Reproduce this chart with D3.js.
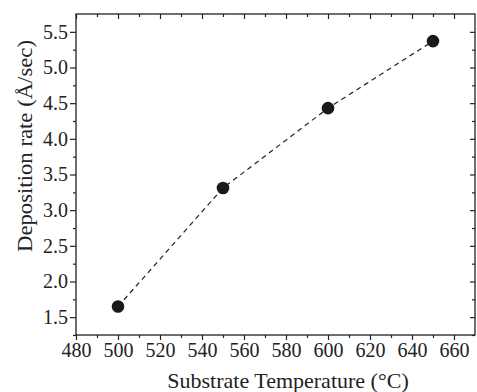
<!DOCTYPE html>
<html>
<head>
<meta charset="utf-8">
<script src="https://cdn.jsdelivr.net/npm/d3@7"></script>
<style>
  body { margin: 0; background: #fff; }
  svg text { font-family: "Liberation Serif", "Times New Roman", serif; fill: #222; }
</style>
</head>
<body>
<svg id="chart" width="477" height="392"></svg>
<script>
// values
var temperatures = [500, 550, 600, 650];
var rates = [1.65, 3.31, 4.43, 5.37];
var xTicks = [480, 500, 520, 540, 560, 580, 600, 620, 640, 660];
var yTicks = [1.5, 2.0, 2.5, 3.0, 3.5, 4.0, 4.5, 5.0, 5.5];

var svg = d3.select("#chart"),
    margin = {top: 14, right: 2, bottom: 57, left: 76},
    width = +svg.attr("width") - margin.left - margin.right,
    height = +svg.attr("height") - margin.top - margin.bottom;

var x = d3.scaleLinear().domain([480, 670]).range([0, width]);
var y = d3.scaleLinear().domain([1.25, 5.75]).range([height, 0]);

var g = svg.append("g")
    .attr("transform", "translate(" + margin.left + "," + margin.top + ")");

var xMinor = d3.range(490, 670, 20);
var yMinor = d3.range(1.25, 5.75, 0.5);

// bottom
var bottomAxis = g.append("g").attr("transform", "translate(0," + height + ")");
bottomAxis.call(d3.axisBottom(x).tickValues(xTicks).tickSize(5).tickPadding(3).tickFormat(d3.format("d")));
bottomAxis.append("g").call(d3.axisBottom(x).tickValues(xMinor).tickSize(3).tickFormat(""));

// top, ticks pointing in
var topAxis = g.append("g");
topAxis.call(d3.axisBottom(x).tickValues(xTicks).tickSize(5).tickFormat(""));
topAxis.append("g").call(d3.axisBottom(x).tickValues(xMinor).tickSize(3).tickFormat(""));

// left
var leftAxis = g.append("g");
leftAxis.call(d3.axisLeft(y).tickValues(yTicks).tickSize(6).tickPadding(2).tickFormat(d3.format(".1f")));
leftAxis.append("g").call(d3.axisLeft(y).tickValues(yMinor).tickSize(3).tickFormat(""));

// right, ticks pointing in
var rightAxis = g.append("g").attr("transform", "translate(" + width + ",0)");
rightAxis.call(d3.axisLeft(y).tickValues(yTicks).tickSize(5).tickFormat(""));
rightAxis.append("g").call(d3.axisLeft(y).tickValues(yMinor).tickSize(3).tickFormat(""));

g.selectAll(".domain").remove();
g.selectAll("g").attr("font-family", null).attr("font-size", null);
g.selectAll(".tick line").attr("stroke", "#222").attr("stroke-width", 1.2);
g.selectAll(".tick text").style("font-size", "20px").attr("fill", "#222");

g.append("rect")
    .attr("width", width)
    .attr("height", height)
    .attr("fill", "none")
    .attr("stroke", "#222")
    .attr("stroke-width", 1.3);

var pts = temperatures.map(function(t, i) { return [t, rates[i]]; });

g.append("path")
    .datum(pts)
    .attr("fill", "none")
    .attr("stroke", "#222")
    .attr("stroke-width", 1.2)
    .attr("stroke-dasharray", "5,4")
    .attr("d", d3.line().x(function(d) { return x(d[0]); }).y(function(d) { return y(d[1]); }));

g.selectAll("circle")
    .data(pts)
    .enter().append("circle")
    .attr("cx", function(d) { return x(d[0]); })
    .attr("cy", function(d) { return y(d[1]); })
    .attr("r", 6.3)
    .attr("fill", "#1a1a1a");

svg.append("text")
    .attr("x", 288)
    .attr("y", 388)
    .attr("text-anchor", "middle")
    .style("font-size", "22px")
    .text("Substrate Temperature (\u00B0C)");

svg.append("text")
    .attr("transform", "translate(32,146) rotate(-90)")
    .attr("text-anchor", "middle")
    .attr("textLength", 212)
    .attr("lengthAdjust", "spacingAndGlyphs")
    .style("font-size", "22px")
    .text("Deposition rate (\u00C5/sec)");
</script>
</body>
</html>
